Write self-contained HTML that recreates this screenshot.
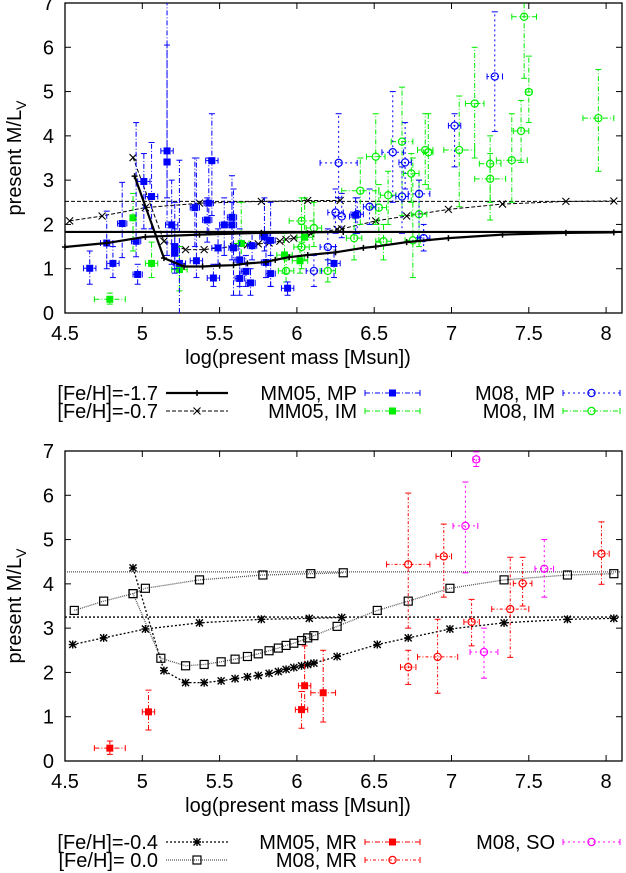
<!DOCTYPE html>
<html><head><meta charset="utf-8"><style>
html,body{margin:0;padding:0;background:#fff;}
svg{display:block;font-family:"Liberation Sans",sans-serif;}
</style></head><body>
<svg id="fig" width="626" height="873" viewBox="0 0 626 873" xmlns="http://www.w3.org/2000/svg"></svg>
<script>
// ---------- TOP PANEL DATA ----------
const xTicks=[4.5,5,5.5,6,6.5,7,7.5,8];
const xTickLabels=["4.5","5","5.5","6","6.5","7","7.5","8"];
const yTicks=[0,1,2,3,4,5,6,7];
const yTickLabels=["0","1","2","3","4","5","6","7"];

const mpX=[4.66,4.77,4.81,4.87,4.97,4.96,5.01,5.06,5.16,5.16,5.19,5.21,5.21,5.24,5.35,5.34,5.42,5.43,5.45,5.46,5.49,5.53,5.58,5.58,5.59,5.63,5.63,5.67,5.70,5.71,5.79,5.80,5.83,5.83,5.94,6.24,6.38];
const mpY=[1.01,1.58,1.12,2.02,0.87,1.62,2.97,2.63,3.66,3.41,1.99,1.50,1.35,1.12,1.18,2.38,2.10,2.48,3.44,0.79,1.47,1.99,2.16,1.99,1.47,1.20,0.78,0.94,0.68,1.52,1.72,1.14,1.64,0.89,0.56,1.12,2.21];
const mpLo=[0.65,1.0,0.8,1.25,0.65,1.27,1.9,1.9,1.3,2.6,1.1,1.0,0.9,0,0.8,1.5,1.6,1.8,2.2,0.6,1.1,1.3,1.5,1.2,0.4,0.6,0.4,0.6,0.4,1.2,1.4,0.8,0.6,0.6,0.4,0.8,1.8];
const mpHi=[1.4,2.3,1.5,2.95,1.1,4.3,3.6,3.85,7,6.05,3.0,2.5,1.9,3.45,3.5,3.5,2.6,3.5,4.5,1.1,1.9,2.6,3.1,2.5,2.8,1.9,1.2,1.3,1.0,1.8,2.6,1.6,2.5,1.3,0.7,1.5,2.6];
const mpXe=[0.04,0.04,0.04,0.03,0.03,0.03,0.04,0.04,0.04,0.02,0.04,0.02,0.02,0.04,0.04,0.03,0.03,0.03,0.04,0.04,0.04,0.03,0.03,0.03,0.03,0.03,0.03,0.03,0.03,0.03,0.03,0.03,0.03,0.03,0.04,0.04,0.03];

const imX=[4.79,4.94,5.06,5.24,5.64,5.92,6.02,6.05];
const imY=[0.31,2.15,1.12,0.98,1.57,1.31,1.18,1.71];
const imLo=[0.2,1.4,0.8,0.5,1.1,0.9,0.9,1.2];
const imHi=[0.45,2.7,1.6,1.5,2.5,1.8,1.5,2.6];
const imXe=[0.1,0.02,0.04,0.05,0.05,0.05,0.05,0.05];

const m08mpX=[6.27,6.25,6.29,6.20,6.11,6.62,6.70,6.68,6.79,6.47,6.82,7.02,7.28,6.39];
const m08mpY=[3.39,2.27,2.18,1.49,0.95,3.63,3.40,2.63,2.69,2.40,1.69,4.23,5.34,2.23];
const m08mpLo=[2.6,1.8,1.7,1.2,0.6,2.5,2.8,1.8,1.7,2.0,1.4,3.3,4.1,1.8];
const m08mpHi=[4.5,2.8,2.7,1.9,1.3,5.0,4.3,3.3,3.0,2.8,2.0,4.5,6.8,2.6];
const m08mpXe=[0.12,0.05,0.05,0.05,0.05,0.07,0.04,0.04,0.07,0.04,0.04,0.04,0.05,0.04];

const m08imX=[6.03,6.11,6.03,5.93,6.20,6.37,6.41,6.51,6.53,6.56,6.59,6.68,6.74,6.75,6.79,6.83,6.85,7.05,7.15,7.25,7.25,7.39,7.45,7.47,7.50,7.95];
const m08imY=[2.08,1.92,1.49,0.95,0.95,1.69,2.76,3.53,2.38,1.62,2.66,3.87,3.15,1.64,2.23,3.68,3.63,3.68,4.73,3.37,3.03,3.45,4.11,6.69,4.99,4.40];
const m08imLo=[1.6,1.5,1.0,0.7,0.7,1.2,2.0,2.0,1.6,1.2,2.0,2.2,2.5,0.8,1.5,2.9,2.8,2.4,3.5,2.5,2.1,2.5,3.4,5.3,4.3,3.2];
const m08imHi=[2.6,2.5,2.0,1.2,1.2,2.2,3.5,4.5,2.9,2.0,3.2,5.1,3.6,3.5,3.0,4.5,4.5,4.9,6.0,4.0,3.6,4.5,4.8,7.0,5.8,5.5];
const m08imXe=[0.08,0.05,0.05,0.05,0.05,0.05,0.12,0.06,0.05,0.05,0.05,0.07,0.05,0.05,0.05,0.05,0.03,0.1,0.06,0.07,0.1,0.1,0.05,0.08,0.02,0.1];

const m17aX=[4.5,4.77,5.02,5.37,5.77,6.3];
const m17aY=[1.49,1.58,1.72,1.77,1.81,1.83];
const m17bX=[4.95,5.14,5.27,5.39,5.50,5.59,5.68,5.80,5.86,5.95,6.07,6.25,6.43,6.51,6.71,6.98,7.33,7.74,8.05];
const m17bY=[3.09,1.24,1.05,1.05,1.07,1.08,1.12,1.15,1.20,1.26,1.31,1.37,1.47,1.50,1.60,1.69,1.77,1.81,1.82];
const m17Asym=1.83;
const m07aX=[4.53,4.74,5.02,5.37,5.77,6.07,6.28];
const m07aY=[2.08,2.19,2.38,2.48,2.52,2.54,2.54];
const m07bX=[4.94,5.14,5.28,5.40,5.49,5.59,5.68,5.75,5.82,5.89,5.93,5.98,6.05,6.09,6.26,6.29,6.51,6.71,6.98,7.33,7.74,8.05];
const m07bY=[3.51,1.62,1.43,1.43,1.47,1.50,1.54,1.56,1.58,1.62,1.66,1.69,1.73,1.79,1.89,1.90,2.08,2.19,2.34,2.46,2.52,2.53];
const m07Asym=2.52;

// ---------- BOTTOM PANEL DATA ----------
const mrX=[4.79,5.04,6.03,6.05,6.17];
const mrY=[0.29,1.11,1.16,1.70,1.54];
const mrLo=[0.15,0.7,0.74,1.17,0.88];
const mrHi=[0.45,1.6,1.57,2.6,2.5];
const mrXe=[0.1,0.04,0.04,0.04,0.08];

const m08mrX=[6.72,6.95,6.72,6.91,7.13,7.38,7.46,7.97];
const m08mrY=[4.44,4.62,2.12,2.35,3.14,3.43,4.01,4.68];
const m08mrLo=[3.0,3.7,1.73,1.53,2.6,2.34,3.5,3.99];
const m08mrHi=[6.05,5.35,2.5,3.2,3.65,4.6,4.6,5.4];
const m08mrXe=[0.14,0.05,0.05,0.13,0.05,0.12,0.06,0.05];

const soX=[7.16,7.09,7.21,7.60];
const soY=[6.81,5.31,2.46,4.34];
const soLo=[6.65,4.25,1.87,3.7];
const soHi=[6.98,6.3,3.0,5.0];
const soXe=[0.02,0.08,0.09,0.06];

const m04aX=[4.55,4.75,5.02,5.37,5.77,6.08,6.29];
const m04aY=[2.63,2.78,2.98,3.12,3.20,3.22,3.24];
const m04bX=[4.94,5.14,5.28,5.40,5.51,5.60,5.68,5.75,5.82,5.88,5.93,5.98,6.03,6.07,6.11,6.26,6.52,6.72,6.99,7.34,7.75,8.05];
const m04bY=[4.36,2.04,1.77,1.77,1.81,1.86,1.90,1.93,1.98,2.02,2.07,2.11,2.15,2.18,2.21,2.36,2.63,2.78,2.98,3.12,3.20,3.22];
const m04Asym=3.25;
const m00aX=[4.56,4.75,4.94,5.02,5.37,5.78,6.09,6.30];
const m00aY=[3.40,3.61,3.78,3.90,4.09,4.20,4.23,4.25];
const m00bX=[4.94,5.12,5.28,5.40,5.51,5.60,5.68,5.75,5.82,5.88,5.93,5.98,6.03,6.07,6.11,6.26,6.52,6.72,6.99,7.34,7.75,8.05];
const m00bY=[3.78,2.32,2.15,2.18,2.24,2.30,2.36,2.42,2.49,2.55,2.61,2.66,2.72,2.78,2.83,3.04,3.40,3.61,3.90,4.09,4.20,4.23];
const m00Asym=4.27;

// ---------- DRAWING ----------
const NS="http://www.w3.org/2000/svg";
const svg=document.getElementById('fig');
const L=65, R=622, UX=154.6;
function sx(v){return L+(v-4.5)*UX;}
function mk(tag,attrs,parent){const e=document.createElementNS(NS,tag);for(const k in attrs)e.setAttribute(k,attrs[k]);(parent||svg).appendChild(e);return e;}
const FS=20;

function panel(name,y0,top){
  const g=mk('g',{});
  
  
  const k=(y0-top)/7;
  const sy=v=>y0-v*k;
  const box=mk('rect',{x:L,y:top,width:R-L,height:y0-top,fill:'none',stroke:'#000','stroke-width':1.3},g);
  
  
  xTicks.forEach((t,i)=>{
    const x=sx(t);
    mk('line',{x1:x,y1:y0,x2:x,y2:y0-6,stroke:'#000'},g);
    mk('line',{x1:x,y1:top,x2:x,y2:top+6,stroke:'#000'},g);
    const tx=mk('text',{x:x,y:y0+27,'font-size':FS,'text-anchor':'middle'},g);
    tx.textContent=xTickLabels[i];
    
    
  });
  yTicks.forEach((t,i)=>{
    const y=sy(t);
    mk('line',{x1:L,y1:y,x2:L+6,y2:y,stroke:'#000'},g);
    mk('line',{x1:R,y1:y,x2:R-6,y2:y,stroke:'#000'},g);
    const tx=mk('text',{x:54,y:y+7,'font-size':FS,'text-anchor':'end'},g);
    tx.textContent=yTickLabels[i];
    
    
  });
  const xt=mk('text',{x:298,y:y0+51,'font-size':FS,'text-anchor':'middle'},g);
  xt.textContent='log(present mass [Msun])';
  
  
  const yc=top+(y0-top)*0.5;
  const yt=mk('text',{x:0,y:0,'font-size':FS,'text-anchor':'middle',transform:`translate(21,${yc}) rotate(-90)`},g);
  yt.innerHTML='present M/L<tspan font-size="14" dy="5">V</tspan>';
  
  
  return {g,sy};
}

function marker(g,type,x,y,color){
  if(type==='fsq') mk('rect',{x:x-3.5,y:y-3.5,width:7,height:7,fill:color},g);
  else if(type==='osq') mk('rect',{x:x-4,y:y-4,width:8,height:8,fill:'none',stroke:color,'stroke-width':1.2},g);
  else if(type==='circ') mk('circle',{cx:x,cy:y,r:3.6,fill:'none',stroke:color,'stroke-width':1.2},g);
  else if(type==='plus'){mk('line',{x1:x-3,y1:y,x2:x+3,y2:y,stroke:color,'stroke-width':1.5},g);mk('line',{x1:x,y1:y-3,x2:x,y2:y+3,stroke:color,'stroke-width':1.5},g);}
  else if(type==='cross'){mk('path',{d:`M${x-3.5} ${y-3.5}L${x+3.5} ${y+3.5}M${x-3.5} ${y+3.5}L${x+3.5} ${y-3.5}`,stroke:color,'stroke-width':1.1},g);}
  else if(type==='star'){mk('path',{d:`M${x-3.5} ${y-3.5}L${x+3.5} ${y+3.5}M${x-3.5} ${y+3.5}L${x+3.5} ${y-3.5}M${x-4} ${y}L${x+4} ${y}M${x} ${y-4}L${x} ${y+4}`,stroke:color,'stroke-width':1.4},g);}
}

function errSeries(P,name,X,Y,Lo,Hi,Xe,color,dash,mtype){
  const g=mk('g',{},P.g);
  
  
  for(let i=0;i<X.length;i++){
    const x=sx(X[i]),y=P.sy(Y[i]);
    const ylo=P.sy(Math.max(0,Lo[i])),yhi=P.sy(Math.min(7,Hi[i]));
    const xl=sx(X[i]-Xe[i]),xr=sx(X[i]+Xe[i]);
    const st={stroke:color,'stroke-width':1,'stroke-dasharray':dash,fill:'none'};
    mk('path',Object.assign({d:`M${x} ${ylo}V${yhi}M${xl} ${y}H${xr}`},st),g);
    const c={stroke:color,'stroke-width':1};
    if(Hi[i]<7) mk('line',Object.assign({x1:x-3,y1:yhi,x2:x+3,y2:yhi},c),g);
    if(Lo[i]>0) mk('line',Object.assign({x1:x-3,y1:ylo,x2:x+3,y2:ylo},c),g);
    mk('line',Object.assign({x1:xl,y1:y-3,x2:xl,y2:y+3},c),g);
    mk('line',Object.assign({x1:xr,y1:y-3,x2:xr,y2:y+3},c),g);
    marker(g,mtype,x,y,color);
  }
}

function curve(P,name,X,Y,asym,style,mtype,color){
  const g=mk('g',{},P.g);
  
  
  const ya=P.sy(asym);
  mk('line',Object.assign({x1:L,y1:ya,x2:R,y2:ya},style),g);
  X.forEach((xs,k)=>{
    const ys=Y[k];
    const d=xs.map((v,i)=>(i?'L':'M')+sx(v)+' '+P.sy(ys[i])).join('');
    mk('path',Object.assign({d:d,fill:'none'},style),g);
    xs.forEach((v,i)=>marker(g,mtype,sx(v),P.sy(ys[i]),color));
  });
}

function legendEntry(P,name,label,tx,ty,sampleX0,sampleX1,kind,color,dash,mtype){
  const g=mk('g',{},P.g);
  
  
  const t=mk('text',{x:tx,y:ty+7,'font-size':FS,'text-anchor':'end'},g);
  t.textContent=label;
  const xm=(sampleX0+sampleX1)/2;
  if(kind==='line'){
    mk('line',Object.assign({x1:sampleX0,y1:ty,x2:sampleX1,y2:ty},dash),g);
  } else {
    mk('line',{x1:sampleX0,y1:ty,x2:sampleX1,y2:ty,stroke:color,'stroke-width':1,'stroke-dasharray':dash},g);
    mk('line',{x1:sampleX0,y1:ty-3,x2:sampleX0,y2:ty+3,stroke:color},g);
    mk('line',{x1:sampleX1,y1:ty-3,x2:sampleX1,y2:ty+3,stroke:color},g);
  }
  marker(g,mtype,xm,ty,color);
}

// top
const T=panel('top-panel',313,3);
const solid={stroke:'#000','stroke-width':2.2};
const dashed={stroke:'#000','stroke-width':1,'stroke-dasharray':'4,2'};
curve(T,'model-feh-m0.7',[m07aX,m07bX],[m07aY,m07bY],m07Asym,dashed,'cross','#000');
errSeries(T,'mm05-im-series',imX,imY,imLo,imHi,imXe,'#00ee00','5,2,1,2','fsq');
errSeries(T,'m08-im-series',m08imX,m08imY,m08imLo,m08imHi,m08imXe,'#00ee00','5,2,1,2','circ');
errSeries(T,'mm05-mp-series',mpX,mpY,mpLo,mpHi,mpXe,'#0000ff','5,2,1,2','fsq');
errSeries(T,'m08-mp-series',m08mpX,m08mpY,m08mpLo,m08mpHi,m08mpXe,'#0000ff','2,3','circ');
curve(T,'model-feh-m1.7',[m17aX,m17bX],[m17aY,m17bY],m17Asym,solid,'plus','#000');
legendEntry(T,'legend-feh-m1.7','[Fe/H]=-1.7',158,393,166,228,'line','#000',solid,'plus');
legendEntry(T,'legend-feh-m0.7','[Fe/H]=-0.7',158,411,166,228,'line','#000',dashed,'cross');
legendEntry(T,'legend-mm05-mp','MM05, MP',357,393,365,420,'err','#0000ff','5,2,1,2','fsq');
legendEntry(T,'legend-mm05-im','MM05, IM',357,411,365,420,'err','#00ee00','5,2,1,2','fsq');
legendEntry(T,'legend-m08-mp','M08, MP',555,393,563,620,'err','#0000ff','2,3','circ');
legendEntry(T,'legend-m08-im','M08, IM',555,411,563,620,'err','#00ee00','5,2,1,2','circ');

// bottom
const B=panel('bottom-panel',761,451);
const dot1={stroke:'#000','stroke-width':1.3,'stroke-dasharray':'2,2'};
const dot2={stroke:'#555','stroke-width':1.3,'stroke-dasharray':'1,1'};
curve(B,'model-feh-m0.4',[m04aX,m04bX],[m04aY,m04bY],m04Asym,dot1,'star','#000');
curve(B,'model-feh-0.0',[m00aX,m00bX],[m00aY,m00bY],m00Asym,dot2,'osq','#000');
errSeries(B,'mm05-mr-series',mrX,mrY,mrLo,mrHi,mrXe,'#ff0000','5,2,1,2','fsq');
errSeries(B,'m08-mr-series',m08mrX,m08mrY,m08mrLo,m08mrHi,m08mrXe,'#ff0000','3,2,1,2','circ');
errSeries(B,'m08-so-series',soX,soY,soLo,soHi,soXe,'#ff00ff','2,3','circ');
legendEntry(B,'legend-feh-m0.4','[Fe/H]=-0.4',158,842,166,228,'line','#000',dot1,'star');
legendEntry(B,'legend-feh-0.0','[Fe/H]= 0.0',158,860,166,228,'line','#000',dot2,'osq');
legendEntry(B,'legend-mm05-mr','MM05, MR',357,842,365,420,'err','#ff0000','5,2,1,2','fsq');
legendEntry(B,'legend-m08-mr','M08, MR',357,860,365,420,'err','#ff0000','3,2,1,2','circ');
legendEntry(B,'legend-m08-so','M08, SO',555,842,563,620,'err','#ff00ff','2,3','circ');
</script>
</body></html>
